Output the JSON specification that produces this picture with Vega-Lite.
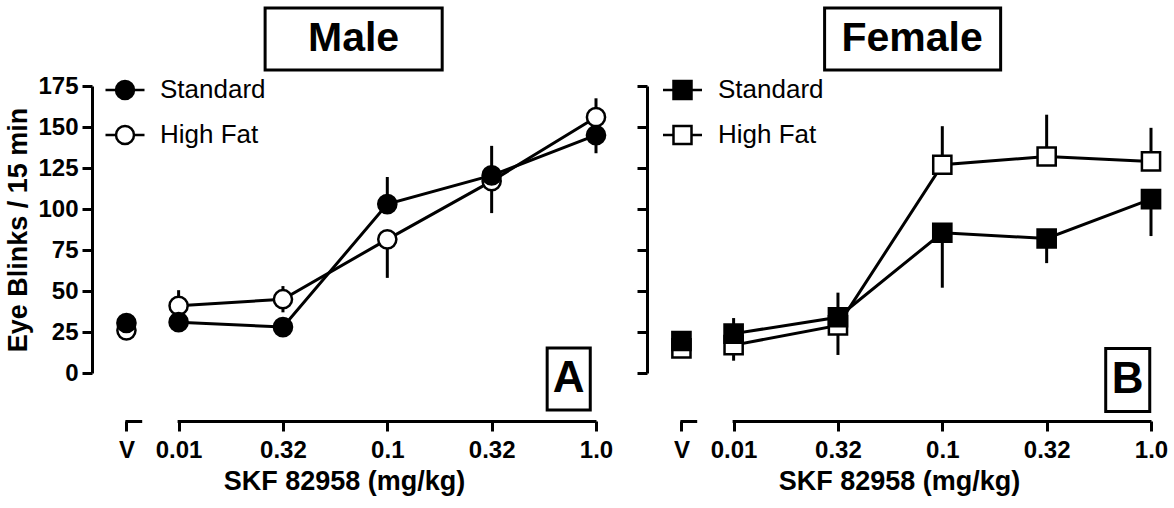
{
  "$schema": "https://vega.github.io/schema/vega-lite/v6.json",
  "background": "white",
  "padding": {"left": 4, "top": 6, "right": 5, "bottom": 5},
  "config": {
    "view": {"stroke": null},
    "font": "Liberation Sans",
    "axis": {
      "grid": false,
      "domainColor": "black",
      "domainWidth": 3,
      "tickColor": "black",
      "tickWidth": 3,
      "tickSize": 10,
      "labelColor": "black",
      "labelFont": "Liberation Sans",
      "labelFontSize": 24,
      "labelFontWeight": "bold",
      "titleColor": "black",
      "titleFont": "Liberation Sans",
      "titleFontSize": 27,
      "titleFontWeight": "bold"
    }
  },
  "data": {
    "values": [
      {"panel": "Male", "series": "High Fat", "dose": "V", "pos": -0.5, "mean": 26, "lo": 26, "hi": 26},
      {"panel": "Male", "series": "High Fat", "dose": "0.01", "pos": 0, "mean": 41, "lo": 41, "hi": 50.5},
      {"panel": "Male", "series": "High Fat", "dose": "0.032", "pos": 1, "mean": 45, "lo": 37, "hi": 53},
      {"panel": "Male", "series": "High Fat", "dose": "0.1", "pos": 2, "mean": 81.5, "lo": 58, "hi": 81.5},
      {"panel": "Male", "series": "High Fat", "dose": "0.32", "pos": 3, "mean": 117, "lo": 97.5, "hi": 117},
      {"panel": "Male", "series": "High Fat", "dose": "1.0", "pos": 4, "mean": 156, "lo": 156, "hi": 167.5},
      {"panel": "Male", "series": "Standard", "dose": "V", "pos": -0.5, "mean": 30.5, "lo": 30.5, "hi": 30.5},
      {"panel": "Male", "series": "Standard", "dose": "0.01", "pos": 0, "mean": 31, "lo": 31, "hi": 31},
      {"panel": "Male", "series": "Standard", "dose": "0.032", "pos": 1, "mean": 28, "lo": 28, "hi": 28},
      {"panel": "Male", "series": "Standard", "dose": "0.1", "pos": 2, "mean": 103, "lo": 103, "hi": 119.5},
      {"panel": "Male", "series": "Standard", "dose": "0.32", "pos": 3, "mean": 120.5, "lo": 120.5, "hi": 138.5},
      {"panel": "Male", "series": "Standard", "dose": "1.0", "pos": 4, "mean": 145, "lo": 134, "hi": 145},
      {"panel": "Female", "series": "High Fat", "dose": "V", "pos": -0.5, "mean": 15, "lo": 15, "hi": 15},
      {"panel": "Female", "series": "High Fat", "dose": "0.01", "pos": 0, "mean": 17, "lo": 7.5, "hi": 17},
      {"panel": "Female", "series": "High Fat", "dose": "0.032", "pos": 1, "mean": 29, "lo": 11, "hi": 29},
      {"panel": "Female", "series": "High Fat", "dose": "0.1", "pos": 2, "mean": 127, "lo": 127, "hi": 150.5},
      {"panel": "Female", "series": "High Fat", "dose": "0.32", "pos": 3, "mean": 132, "lo": 132, "hi": 157.5},
      {"panel": "Female", "series": "High Fat", "dose": "1.0", "pos": 4, "mean": 129, "lo": 129, "hi": 149.5},
      {"panel": "Female", "series": "Standard", "dose": "V", "pos": -0.5, "mean": 19.5, "lo": 19.5, "hi": 22},
      {"panel": "Female", "series": "Standard", "dose": "0.01", "pos": 0, "mean": 24, "lo": 24, "hi": 33.5},
      {"panel": "Female", "series": "Standard", "dose": "0.032", "pos": 1, "mean": 34, "lo": 34, "hi": 49},
      {"panel": "Female", "series": "Standard", "dose": "0.1", "pos": 2, "mean": 85.5, "lo": 52, "hi": 85.5},
      {"panel": "Female", "series": "Standard", "dose": "0.32", "pos": 3, "mean": 82, "lo": 67, "hi": 82},
      {"panel": "Female", "series": "Standard", "dose": "1.0", "pos": 4, "mean": 106, "lo": 83.5, "hi": 106}
    ]
  },
  "spacing": 51,
  "bounds": "flush",
  "resolve": {"scale": {"fill": "independent"}, "legend": {"fill": "independent"}},
  "hconcat": [
    {
      "width": 504,
      "height": 287,
      "layer": [
        {
          "transform": [{"filter": "datum.panel == 'Male'"}],
          "mark": {"type": "rule", "color": "black", "strokeWidth": 3},
          "encoding": {
            "x": {"field": "pos", "type": "quantitative", "title": "SKF 82958 (mg/kg)",
              "scale": {"domain": [-0.83, 4], "nice": false, "zero": false},
              "axis": {"values": [-0.5, 0, 1, 2, 3, 4], "labelExpr": "datum.value == -0.5 ? 'V' : ['0.01','0.32','0.1','0.32','1.0'][datum.value]",
                "offset": 48, "domainDash": [0, 32.9, 16.8, 35.4, 420, 10], "labelPadding": 7, "titlePadding": 6, "labelFlush": false, "labelOverlap": false}},
            "y": {"field": "lo", "type": "quantitative", "title": "Eye Blinks / 15 min",
              "scale": {"domain": [0, 175], "nice": false},
              "axis": {"values": [0, 25, 50, 75, 100, 125, 150, 175], "labelPadding": 4, "titlePadding": 5}},
            "y2": {"field": "hi"}
          }
        },
        {
          "transform": [{"filter": "datum.panel == 'Male' && datum.pos >= 0"}],
          "mark": {"type": "line", "color": "black", "strokeWidth": 3},
          "encoding": {
            "x": {"field": "pos", "type": "quantitative", "title": "SKF 82958 (mg/kg)"},
            "y": {"field": "mean", "type": "quantitative", "title": "Eye Blinks / 15 min"},
            "detail": {"field": "series"}
          }
        },
        {
          "transform": [{"filter": "datum.panel == 'Male'"}],
          "mark": {"type": "point", "shape": "circle", "size": 330, "filled": true, "stroke": "black", "strokeWidth": 2.5, "opacity": 1},
          "encoding": {
            "x": {"field": "pos", "type": "quantitative", "title": "SKF 82958 (mg/kg)"},
            "y": {"field": "mean", "type": "quantitative", "title": "Eye Blinks / 15 min"},
            "fill": {"field": "series", "type": "nominal",
              "scale": {"domain": ["Standard", "High Fat"], "range": ["black", "white"]},
              "legend": {"title": null, "orient": "none", "legendX": 20, "legendY": -9, "padding": 0,
                "symbolType": "M-1.95,0L-0.9,0M0.9,0L1.95,0M0.9,0A0.9,0.9 0 1,1 -0.9,0A0.9,0.9 0 1,1 0.9,0",
                "symbolSize": 400, "symbolStrokeColor": "black", "symbolStrokeWidth": 2.5, "symbolOpacity": 1,
                "labelFont": "Liberation Sans", "labelFontSize": 26, "labelFontWeight": "normal", "labelColor": "black",
                "labelOffset": 22, "rowPadding": 17}}
          }
        },
        {
          "data": {"values": [{"label": "Male"}]},
          "mark": {"type": "rect", "fill": "white", "stroke": "black", "strokeWidth": 3},
          "encoding": {
            "x": {"datum": 0.829}, "x2": {"datum": 2.526},
            "y": {"datum": 222.6}, "y2": {"datum": 184.8}
          }
        },
        {
          "data": {"values": [{"label": "Male"}]},
          "mark": {"type": "text", "font": "Liberation Sans", "fontSize": 41, "fontWeight": "bold", "color": "black", "baseline": "middle", "align": "center"},
          "encoding": {
            "x": {"datum": 1.677}, "y": {"datum": 203.7}, "text": {"field": "label"}
          }
        },
        {
          "data": {"values": [{"label": "A"}]},
          "mark": {"type": "rect", "fill": "white", "stroke": "black", "strokeWidth": 3},
          "encoding": {
            "x": {"datum": 3.532}, "x2": {"datum": 3.945},
            "y": {"datum": 15.2}, "y2": {"datum": -22.6}
          }
        },
        {
          "data": {"values": [{"label": "A"}]},
          "mark": {"type": "text", "font": "Liberation Sans", "fontSize": 44, "fontWeight": "bold", "color": "black", "baseline": "middle", "align": "center"},
          "encoding": {
            "x": {"datum": 3.738}, "y": {"datum": -3.7}, "text": {"field": "label"}
          }
        }
      ]
    },
    {
      "width": 504,
      "height": 287,
      "layer": [
        {
          "transform": [{"filter": "datum.panel == 'Female'"}],
          "mark": {"type": "rule", "color": "black", "strokeWidth": 3},
          "encoding": {
            "x": {"field": "pos", "type": "quantitative", "title": "SKF 82958 (mg/kg)",
              "scale": {"domain": [-0.83, 4], "nice": false, "zero": false},
              "axis": {"values": [-0.5, 0, 1, 2, 3, 4], "labelExpr": "datum.value == -0.5 ? 'V' : ['0.01','0.32','0.1','0.32','1.0'][datum.value]",
                "offset": 48, "domainDash": [0, 32.9, 16.8, 35.4, 420, 10], "labelPadding": 7, "titlePadding": 6, "labelFlush": false, "labelOverlap": false}},
            "y": {"field": "lo", "type": "quantitative", "title": null,
              "scale": {"domain": [0, 175], "nice": false},
              "axis": {"values": [0, 25, 50, 75, 100, 125, 150, 175], "labels": false, "title": null}},
            "y2": {"field": "hi"}
          }
        },
        {
          "transform": [{"filter": "datum.panel == 'Female' && datum.pos >= 0"}],
          "mark": {"type": "line", "color": "black", "strokeWidth": 3},
          "encoding": {
            "x": {"field": "pos", "type": "quantitative", "title": "SKF 82958 (mg/kg)"},
            "y": {"field": "mean", "type": "quantitative", "title": null},
            "detail": {"field": "series"}
          }
        },
        {
          "transform": [{"filter": "datum.panel == 'Female'"}],
          "mark": {"type": "point", "shape": "square", "size": 330, "filled": true, "stroke": "black", "strokeWidth": 2.5, "opacity": 1},
          "encoding": {
            "x": {"field": "pos", "type": "quantitative", "title": "SKF 82958 (mg/kg)"},
            "y": {"field": "mean", "type": "quantitative", "title": null},
            "fill": {"field": "series", "type": "nominal",
              "scale": {"domain": ["Standard", "High Fat"], "range": ["black", "white"]},
              "legend": {"title": null, "orient": "none", "legendX": 22.5, "legendY": -9, "padding": 0,
                "symbolType": "M-1.95,0L-0.9,0M0.9,0L1.95,0M-0.9,-0.9L0.9,-0.9L0.9,0.9L-0.9,0.9Z",
                "symbolSize": 400, "symbolStrokeColor": "black", "symbolStrokeWidth": 2.5, "symbolOpacity": 1,
                "labelFont": "Liberation Sans", "labelFontSize": 26, "labelFontWeight": "normal", "labelColor": "black",
                "labelOffset": 22.5, "rowPadding": 17}}
          }
        },
        {
          "data": {"values": [{"label": "Female"}]},
          "mark": {"type": "rect", "fill": "white", "stroke": "black", "strokeWidth": 3},
          "encoding": {
            "x": {"datum": 0.872}, "x2": {"datum": 2.559},
            "y": {"datum": 222.6}, "y2": {"datum": 184.8}
          }
        },
        {
          "data": {"values": [{"label": "Female"}]},
          "mark": {"type": "text", "font": "Liberation Sans", "fontSize": 41, "fontWeight": "bold", "color": "black", "baseline": "middle", "align": "center"},
          "encoding": {
            "x": {"datum": 1.711}, "y": {"datum": 203.7}, "text": {"field": "label"}
          }
        },
        {
          "data": {"values": [{"label": "B"}]},
          "mark": {"type": "rect", "fill": "white", "stroke": "black", "strokeWidth": 3},
          "encoding": {
            "x": {"datum": 3.566}, "x2": {"datum": 3.988},
            "y": {"datum": 14.9}, "y2": {"datum": -23.5}
          }
        },
        {
          "data": {"values": [{"label": "B"}]},
          "mark": {"type": "text", "font": "Liberation Sans", "fontSize": 44, "fontWeight": "bold", "color": "black", "baseline": "middle", "align": "center"},
          "encoding": {
            "x": {"datum": 3.777}, "y": {"datum": -4.3}, "text": {"field": "label"}
          }
        }
      ]
    }
  ]
}
